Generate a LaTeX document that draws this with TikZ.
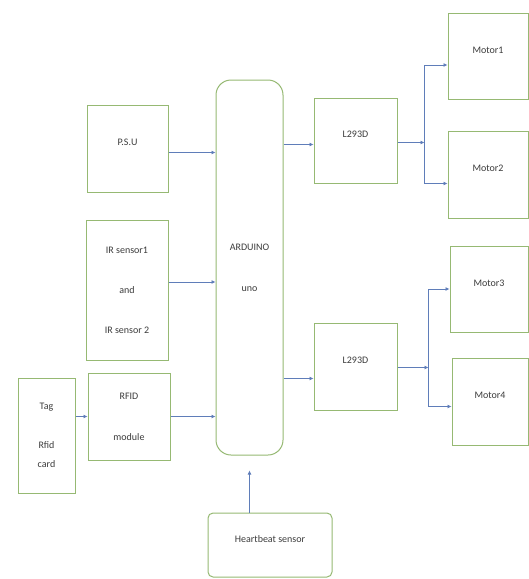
\documentclass[tikz,border=0pt]{standalone}
\usepackage{fontspec}
\setmainfont{Carlito}
\usetikzlibrary{positioning, arrows.meta, calc}
\definecolor{boxgreen}{RGB}{150,185,115}
\definecolor{wireblue}{RGB}{95,125,185}
\definecolor{txtgray}{RGB}{60,60,60}

\begin{document}
\begin{tikzpicture}[x=1pt, y=-1pt,
    blk/.style={draw=boxgreen, line width=1pt, fill=white, text=txtgray, font=\normalsize, align=center, inner sep=2pt},
    raised/.style={text depth=12pt},
    wire/.style={draw=wireblue, line width=0.7pt, -{Latex[length=4pt, width=4pt]}}]
    \useasboundingbox (0,0) rectangle (529,579);

    % ---------------- INPUT BLOCKS ---------------- %
    \node[blk, raised, minimum width=81pt, minimum height=87pt] (psu) at (127.5,148.5) {P.S.U};
    \node[blk, minimum width=82pt, minimum height=140pt] (ir) at (127,290) {IR sensor1\\[28pt]and\\[28pt]IR sensor 2};
    \node[blk, minimum width=82pt, minimum height=87pt] (rfid) at (129,416.5) {RFID\\[29pt]module};
    \node[blk, minimum width=57pt, minimum height=115pt] (tag) at (46.5,435.5) {Tag\\[27pt]Rfid\\[7pt]card};
    \node[blk, raised, rounded corners=5pt, minimum width=124pt, minimum height=64pt] (hb) at (270,545) {Heartbeat sensor};

    % ---------------- CONTROLLER ---------------- %
    \node[blk, rounded corners=15pt, minimum width=67pt, minimum height=375pt] (ard) at (249.5,267.5) {ARDUINO\\[29pt]uno};

    % ---------------- DRIVERS & MOTORS ---------------- %
    \node[blk, raised, minimum width=83pt, minimum height=85pt] (drvA) at (355.5,140.5) {L293D};
    \node[blk, raised, minimum width=83pt, minimum height=87pt] (drvB) at (355.5,366.5) {L293D};
    \node[blk, raised, minimum width=80pt, minimum height=86pt] (motA) at (488,56) {Motor1};
    \node[blk, raised, minimum width=80pt, minimum height=87pt] (motB) at (488,174.5) {Motor2};
    \node[blk, raised, minimum width=78pt, minimum height=86pt] (motC) at (489,289) {Motor3};
    \node[blk, raised, minimum width=76pt, minimum height=87pt] (motD) at (490,401.5) {Motor4};

    % Split points
    \coordinate (spA) at ($(drvA.east)+(27,2)$);
    \coordinate (spB) at ($(drvB.east)+(31,1)$);

    % Inputs to Arduino
    \draw[wire] ([yshift=-4pt]psu.east) -- ([yshift=-4pt]psu.east -| ard.west);
    \draw[wire] ([yshift=8pt]ir.east) -- ([yshift=8pt]ir.east -| ard.west);
    \draw[wire] (rfid.east) -- (rfid.east -| ard.west);
    \draw[wire] (tag.east |- rfid.west) -- (rfid.west);
    \draw[wire, shorten >=15pt] (hb.north -| ard.south) -- (ard.south);

    % Arduino to drivers
    \draw[wire] ([yshift=-4pt]drvA.west -| ard.east) -- ([yshift=-4pt]drvA.west);
    \draw[wire] ([yshift=-12pt]drvB.west -| ard.east) -- ([yshift=-12pt]drvB.west);

    % Drivers to motors
    \draw[wire] (drvA.east |- spA) -- (spA);
    \draw[wire] (spA) |- ([yshift=-9pt]motA.west);
    \draw[wire] (spA) |- ([yshift=-9pt]motB.west);
    \draw[wire] (drvB.east |- spB) -- (spB);
    \draw[wire] (spB) |- (motC.west);
    \draw[wire] (spB) |- ([yshift=-5pt]motD.west);
\end{tikzpicture}
\end{document}
